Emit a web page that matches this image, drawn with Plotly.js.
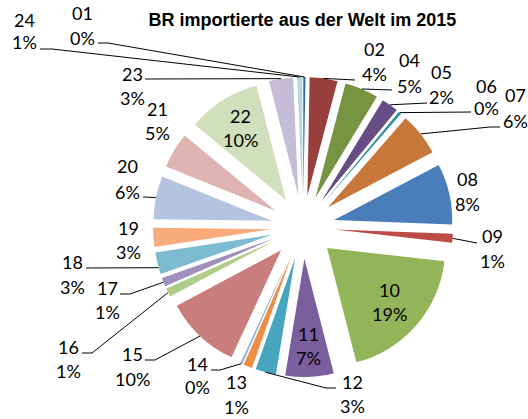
<!DOCTYPE html>
<html><head><meta charset="utf-8">
<script src="https://cdn.plot.ly/plotly-3.0.1.min.js"></script>
<style>html,body{margin:0;padding:0;background:#fff}#chart{width:528px;height:419px}</style>
</head><body><div id="chart"></div>
<script>
// ---- data ----
const categories = ['01','02','04','05','06','07','08','09','10','11','12','13','14','15','16','17','18','19','20','21','22','23','24'];
const shares = [0.3,3.8,4.6,2.3,0.4,5.9,8.3,1.2,19.2,6.6,2.8,1.2,0.3,10.3,1.2,1.2,3.0,2.6,5.9,4.9,10.0,3.3,0.7];
const sliceColors = ['#3A64A0','#983E3C','#779443','#664D85','#2F8FA5','#C7773A','#4A7EBB','#BD4B48','#93B55A','#7B5E9E','#47A5BF','#EE8D45','#95B3D7','#C97D7C','#B0CC8A','#A090BE','#7CBBD0','#F9AB7B','#B4C4E0','#DFB3B2','#D1DFBC','#C5BCD5','#B5D8E3'];
const chartTitle = 'BR importierte aus der Welt im 2015';

// ---- layout / style ----
const W = 528, H = 419, M = {l:152, r:74, t:77, b:42};
const PULL = 0.27;
const pw = W - M.l - M.r, ph = H - M.t - M.b;
const cx = M.l + pw/2, cy = M.t + ph/2;
const R = Math.min(pw, ph)/2/(1 + PULL);
const D = R*PULL;
const X = p => (p - M.l)/pw;
const Y = p => 1 - (p - M.t)/ph;
const FONT = 'Lato, sans-serif';
const FS = 18;

// label placement: [x, yNumber, yPercent]
const labelPlace = {
  '24':[24,20,42], '01':[82,13,37.5], '23':[132,74,98], '21':[157,109,133],
  '20':[127,166,192], '19':[128,228,252], '18':[72,262,287], '17':[107,288,312],
  '16':[68,347,371], '15':[132,354,379], '14':[197,364,387], '13':[236,382,407],
  '12':[352,382,406], '09':[492,236,261], '08':[467,179,204], '07':[515,95,121],
  '06':[486,86,108], '05':[441,72,97], '04':[409,60,86], '02':[374,49,74]
};
const insideK = {'10':0.70, '11':0.74, '22':0.72};
// leader lines: [startX, startY, horizontal hook, fraction within slice]
const leaders = {
  '24':[40,49,12,0.5], '01':[98,43,10,0.5], '23':[145,79,0,0.5], '20':[143,197,0,0.5],
  '18':[86,268,0,0.3], '17':[120,294,10,0.5], '16':[82,353,10,0.5], '15':[145,360,10,0.5],
  '14':[211,370,9,0.5], '12':[336,388,-10,0.5], '09':[477,243,0,0.5], '07':[500,127,-10,0.5],
  '06':[471,112,0,0.5], '05':[427,103,0,0.5], '04':[392,90,0,0.5], '02':[355,80,0,0.5]
};

const total = shares.reduce((a,b)=>a+b,0);
const annotations = [], shapes = [];
let cum = 0;
categories.forEach((c,i) => {
  const v = shares[i];
  const pct = Math.round(v/total*100) + '%';
  const a0 = cum/total*2*Math.PI;
  const a1 = (cum+v)/total*2*Math.PI;
  const mid = (a0+a1)/2;
  cum += v;
  const txt = (x,y,t) => annotations.push({xref:'paper', yref:'paper', x:X(x), y:Y(y), text:t,
    showarrow:false, xanchor:'center', yanchor:'middle', font:{family:FONT, size:FS, color:'#000'}});
  if (insideK[c] !== undefined) {
    const dist = D + insideK[c]*R;
    const x = cx + dist*Math.sin(mid), y = cy - dist*Math.cos(mid);
    txt(x, y-12, c); txt(x, y+12, pct);
  } else if (labelPlace[c]) {
    const p = labelPlace[c];
    txt(p[0], p[1], c); txt(p[0], p[2], pct);
  }
  if (leaders[c]) {
    const L = leaders[c];
    const ang = a0 + (a1-a0)*L[3];
    const tx = cx + D*Math.sin(mid) + R*Math.sin(ang);
    const ty = cy - D*Math.cos(mid) - R*Math.cos(ang);
    let path = `M${X(L[0])},${Y(L[1])}`;
    if (L[2]) path += ` L${X(L[0]+L[2])},${Y(L[1])}`;
    path += ` L${X(tx)},${Y(ty)}`;
    shapes.push({type:'path', xref:'paper', yref:'paper', path, line:{color:'#000', width:1}});
  }
});

const trace = {
  type:'pie', labels:categories, values:shares, sort:false, direction:'clockwise', rotation:0,
  pull:PULL, marker:{colors:sliceColors, line:{width:0}}, textinfo:'none', hoverinfo:'none',
  showlegend:false, domain:{x:[0,1], y:[0,1]}
};

const layout = {
  width:W, height:H, margin:M, paper_bgcolor:'#fff', plot_bgcolor:'#fff', showlegend:false,
  title:{text:'<b>'+chartTitle+'</b>', x:302.5/W, xref:'container', xanchor:'center',
         y:1-20/H, yref:'container', yanchor:'middle',
         font:{family:'Arial', size:18, color:'#000'}},
  annotations, shapes
};
Plotly.newPlot('chart', [trace], layout, {displayModeBar:false, staticPlot:true});
</script></body></html>
